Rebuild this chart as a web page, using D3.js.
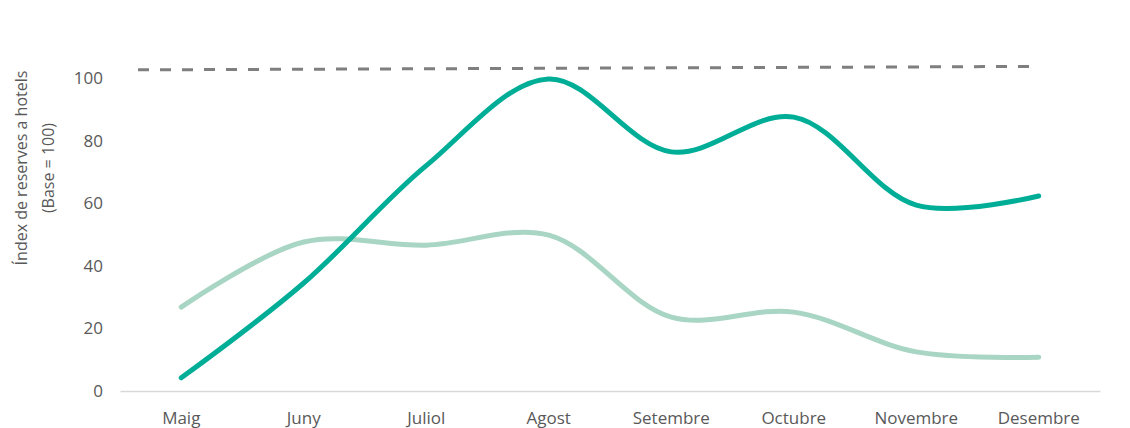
<!DOCTYPE html>
<html>
<head>
<meta charset="utf-8">
<script src="https://cdn.jsdelivr.net/npm/d3@7"></script>
<style>
  body { margin: 0; background: #fff; }
  text { font-family: "Open Sans", sans-serif; fill: #595959; }
</style>
</head>
<body>
<svg></svg>
<script>
const width = 1130;
const height = 428;

const months = ['Maig', 'Juny', 'Juliol', 'Agost', 'Setembre', 'Octubre', 'Novembre', 'Desembre'];
const seriesDark = [4.2, 34.5, 72, 99.7, 76.4, 87.5, 59.4, 62.3];
const seriesLight = [26.8, 47.6, 46.6, 49.8, 23.6, 25.2, 12.5, 10.8];
const refLine = [102.6, 103.7];
const yTicks = [0, 20, 40, 60, 80, 100];

const xScale = d3.scaleBand()
    .domain(months)
    .range([120, 1100]);

const yScale = d3.scaleLinear()
    .domain([0, 100])
    .range([391, 78]);

const svg = d3.select('svg')
    .attr('width', width)
    .attr('height', height);

// x axis
const xAxis = d3.axisBottom(xScale)
    .tickSize(0)
    .tickPadding(21);

const gx = svg.append('g')
    .attr('transform', 'translate(0,391)')
    .call(xAxis);
gx.select('.domain').attr('stroke', '#d9d9d9').attr('stroke-width', 1.5);
gx.selectAll('text').style('font-size', '17px').attr('fill', '#595959');

// y axis (labels only)
const yAxis = d3.axisLeft(yScale)
    .tickValues(yTicks)
    .tickSize(0)
    .tickPadding(0);

const gy = svg.append('g')
    .attr('transform', 'translate(103,0)')
    .call(yAxis);
gy.select('.domain').remove();
gy.selectAll('text').style('font-size', '17px').attr('fill', '#595959');

// dashed reference line
const xStart = xScale.range()[0] + 18;
const xEnd = xScale(months[months.length - 1]) + xScale.bandwidth() / 2;
svg.append('line')
    .attr('x1', xStart)
    .attr('x2', xEnd)
    .attr('y1', yScale(refLine[0]))
    .attr('y2', yScale(refLine[1]))
    .attr('stroke', '#7f7f7f')
    .attr('stroke-width', 3)
    .attr('stroke-dasharray', '11,11');

const line = d3.line()
    .x((d, i) => xScale(months[i]) + xScale.bandwidth() / 2)
    .y(d => yScale(d))
    .curve(d3.curveCatmullRom);

svg.append('path')
    .datum(seriesLight)
    .attr('d', line)
    .attr('fill', 'none')
    .attr('stroke', '#a8d5c4')
    .attr('stroke-width', 5)
    .attr('stroke-linecap', 'round');

svg.append('path')
    .datum(seriesDark)
    .attr('d', line)
    .attr('fill', 'none')
    .attr('stroke', '#00ae97')
    .attr('stroke-width', 5)
    .attr('stroke-linecap', 'round');

// y axis title
const yTitle = svg.append('text')
    .attr('transform', 'rotate(-90)')
    .style('text-anchor', 'middle')
    .style('font-size', '16px');
yTitle.append('tspan')
    .attr('x', -168)
    .attr('y', 27)
    .text('Índex de reserves a hotels');
yTitle.append('tspan')
    .attr('x', -168)
    .attr('y', 54)
    .text('(Base = 100)');
</script>
</body>
</html>
